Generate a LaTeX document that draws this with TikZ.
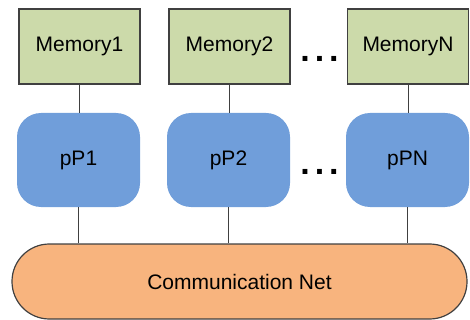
\documentclass[tikz,border=0pt]{standalone}
\usepackage{fontspec}
\setmainfont{Liberation Sans}
\definecolor{memgreen}{RGB}{204,218,170}
\definecolor{procblue}{RGB}{112,158,218}
\definecolor{netorange}{RGB}{248,180,126}
\definecolor{edgegray}{RGB}{64,64,64}
\begin{document}
\begin{tikzpicture}
[x=0.5pt,y=-0.5pt,
memory box/.style={draw=edgegray,line width=0.6pt,fill=memgreen,minimum width=60.5pt,minimum height=37.5pt,inner sep=0pt,font=\fontsize{10.5}{12}\selectfont},
processor box/.style={fill=procblue,rounded corners=12pt,minimum width=61.5pt,minimum height=47pt,inner sep=0pt,font=\fontsize{10.5}{12}\selectfont},
net box/.style={draw=edgegray,line width=0.6pt,fill=netorange,rounded corners=18.7pt,minimum width=227.5pt,minimum height=37.5pt,inner sep=0pt,font=\fontsize{10.5}{12}\selectfont},
link/.style={draw=edgegray,line width=0.5pt},
dots text/.style={anchor=base,inner sep=0pt,font=\fontsize{17}{17}\selectfont\bfseries}]
\useasboundingbox (0,0) rectangle (470,320);
\node[memory box] (mem1) at (79.5,46.5) {Memory1};
\node[memory box] (mem2) at (229.5,46.5) {Memory2};
\node[memory box] (memN) at (408,46.5) {MemoryN};
\node[processor box] (pp1) at (78.5,160) {pP1};
\node[processor box] (pp2) at (228.5,160) {pP2};
\node[processor box] (ppN) at (407.5,160) {pPN};
\node[net box] (net) at (239.5,281.5) {Communication Net};
\node[dots text] (dots top) at (319.5,62) {.\kern2.5pt.\kern2.5pt.};
\node[dots text] (dots mid) at (319.5,175) {.\kern2.5pt.\kern2.5pt.};
\draw[link] (mem1.south) -- (mem1.south |- pp1.north);
\draw[link] (mem2.south) -- (mem2.south |- pp2.north);
\draw[link] (memN.south) -- (memN.south |- ppN.north);
\draw[link] (pp1.south) -- (pp1.south |- net.north);
\draw[link] (pp2.south) -- (pp2.south |- net.north);
\draw[link] (ppN.south) -- (ppN.south |- net.north);
\end{tikzpicture}
\end{document}
